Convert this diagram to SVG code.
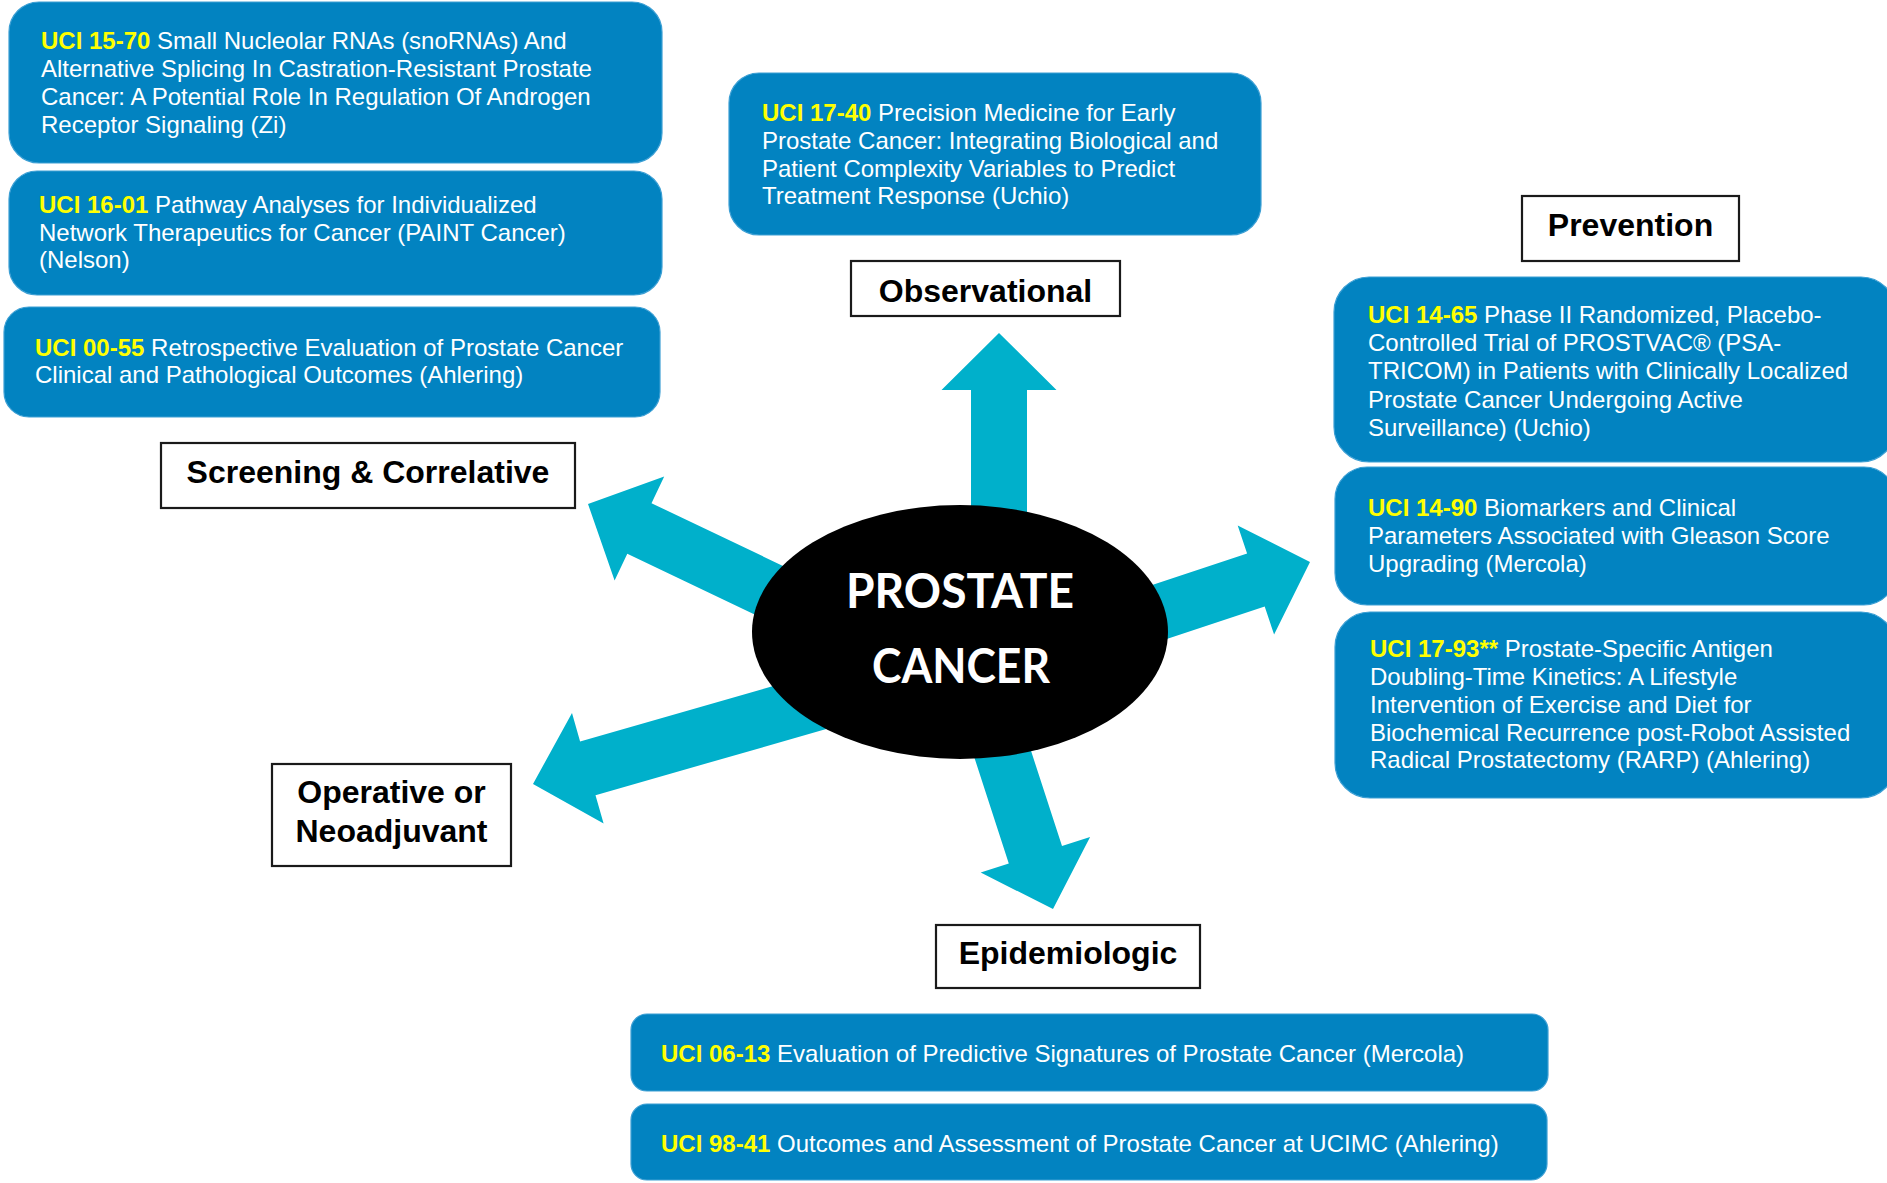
<svg xmlns="http://www.w3.org/2000/svg" width="1887" height="1183" viewBox="0 0 1887 1183">
<style>
.box{fill:#0283C1;stroke:#3c9fd4;stroke-width:1.2}
.t{font-family:"Liberation Sans",Arial,sans-serif;font-size:24px;fill:#ffffff}
.id{fill:#ffff00;font-weight:bold}
.lbl{fill:#ffffff;stroke:#1a1a1a;stroke-width:2.2}
.lt{font-family:"Liberation Sans",Arial,sans-serif;font-size:32px;font-weight:bold;fill:#000000;text-anchor:middle}
.arr{fill:#00B0CB}
.ct{font-family:Lato,"Open Sans",sans-serif;font-size:48px;font-weight:bold;fill:#ffffff}
</style>
<rect width="1887" height="1183" fill="#ffffff"/>

<g id="connectors">
<polygon class="arr" points="1027,560 1027,390 1056.5,390 999,333 941.5,390 971,390 971,560"/>
<polygon class="arr" points="1074.8,669.6 1264.7,606.6 1274.1,634.6 1310,562 1237.7,525.4 1247.1,553.4 1057.2,616.4"/>
<polygon class="arr" points="850.1,597.9 651.5,503.2 664.2,476.6 588,504 614.6,580.4 627.3,553.8 825.9,648.5"/>
<polygon class="arr" points="820.4,672.5 580.1,741.4 572,713 533,784 603.6,823.6 595.5,795.2 835.8,726.3"/>
<polygon class="arr" points="937.7,644.7 1008.8,863.5 980.7,872.6 1053,909 1090.1,837 1062,846.1 990.9,627.4"/>
</g>

<g id="center">
<ellipse cx="960" cy="632" rx="208" ry="127" fill="#000000"/>
<text class="ct" x="846" y="608" textLength="228" lengthAdjust="spacingAndGlyphs">PROSTATE</text>
<text class="ct" x="872" y="683" textLength="178" lengthAdjust="spacingAndGlyphs">CANCER</text>
</g>

<g id="uci-15-70">
<rect class="box" x="9" y="2" width="653" height="161" rx="30"/>
<text class="t" x="41" y="49"><tspan class="id">UCI 15-70</tspan> Small Nucleolar RNAs (snoRNAs) And</text>
<text class="t" x="41" y="77">Alternative Splicing In Castration-Resistant Prostate</text>
<text class="t" x="41" y="105">Cancer: A Potential Role In Regulation Of Androgen</text>
<text class="t" x="41" y="133">Receptor Signaling (Zi)</text>
</g>

<g id="uci-16-01">
<rect class="box" x="9" y="171" width="653" height="124" rx="28"/>
<text class="t" x="39" y="213"><tspan class="id">UCI 16-01</tspan> Pathway Analyses for Individualized</text>
<text class="t" x="39" y="241">Network Therapeutics for Cancer (PAINT Cancer)</text>
<text class="t" x="39" y="268">(Nelson)</text>
</g>

<g id="uci-00-55">
<rect class="box" x="4" y="307" width="656" height="110" rx="25"/>
<text class="t" x="35" y="356"><tspan class="id">UCI 00-55</tspan> Retrospective Evaluation of Prostate Cancer</text>
<text class="t" x="35" y="383">Clinical and Pathological Outcomes (Ahlering)</text>
</g>

<g id="uci-17-40">
<rect class="box" x="729" y="73" width="532" height="162" rx="30"/>
<text class="t" x="762" y="121"><tspan class="id">UCI 17-40</tspan> Precision Medicine for Early</text>
<text class="t" x="762" y="149">Prostate Cancer: Integrating Biological and</text>
<text class="t" x="762" y="177">Patient Complexity Variables to Predict</text>
<text class="t" x="762" y="204">Treatment Response (Uchio)</text>
</g>

<g id="uci-14-65">
<rect class="box" x="1334" y="277" width="562" height="185" rx="35"/>
<text class="t" x="1368" y="323"><tspan class="id">UCI 14-65</tspan> Phase II Randomized, Placebo-</text>
<text class="t" x="1368" y="351">Controlled Trial of PROSTVAC® (PSA-</text>
<text class="t" x="1368" y="379">TRICOM) in Patients with Clinically Localized</text>
<text class="t" x="1368" y="408">Prostate Cancer Undergoing Active</text>
<text class="t" x="1368" y="436">Surveillance) (Uchio)</text>
</g>

<g id="uci-14-90">
<rect class="box" x="1335" y="467" width="561" height="138" rx="32"/>
<text class="t" x="1368" y="516"><tspan class="id">UCI 14-90</tspan> Biomarkers and Clinical</text>
<text class="t" x="1368" y="544">Parameters Associated with Gleason Score</text>
<text class="t" x="1368" y="572">Upgrading (Mercola)</text>
</g>

<g id="uci-17-93">
<rect class="box" x="1335" y="612" width="561" height="186" rx="35"/>
<text class="t" x="1370" y="657"><tspan class="id">UCI 17-93**</tspan> Prostate-Specific Antigen</text>
<text class="t" x="1370" y="685">Doubling-Time Kinetics: A Lifestyle</text>
<text class="t" x="1370" y="713">Intervention of Exercise and Diet for</text>
<text class="t" x="1370" y="741">Biochemical Recurrence post-Robot Assisted</text>
<text class="t" x="1370" y="768">Radical Prostatectomy (RARP) (Ahlering)</text>
</g>

<g id="uci-06-13">
<rect class="box" x="631" y="1014" width="917" height="77" rx="16"/>
<text class="t" x="661" y="1062"><tspan class="id">UCI 06-13</tspan> Evaluation of Predictive Signatures of Prostate Cancer (Mercola)</text>
</g>

<g id="uci-98-41">
<rect class="box" x="631" y="1104" width="916" height="76" rx="16"/>
<text class="t" x="661" y="1152"><tspan class="id">UCI 98-41</tspan> Outcomes and Assessment of Prostate Cancer at UCIMC (Ahlering)</text>
</g>

<g id="label-observational">
<rect class="lbl" x="851" y="261" width="269" height="55"/>
<text class="lt" x="985.5" y="302">Observational</text>
</g>

<g id="label-prevention">
<rect class="lbl" x="1522" y="196" width="217" height="65"/>
<text class="lt" x="1630.5" y="236">Prevention</text>
</g>

<g id="label-screening">
<rect class="lbl" x="161" y="443" width="414" height="65"/>
<text class="lt" x="368" y="483">Screening &amp; Correlative</text>
</g>

<g id="label-operative">
<rect class="lbl" x="272" y="764" width="239" height="102"/>
<text class="lt" x="391.5" y="803">Operative or</text>
<text class="lt" x="391.5" y="842">Neoadjuvant</text>
</g>

<g id="label-epidemiologic">
<rect class="lbl" x="936" y="925" width="264" height="63"/>
<text class="lt" x="1068" y="964">Epidemiologic</text>
</g>
</svg>
